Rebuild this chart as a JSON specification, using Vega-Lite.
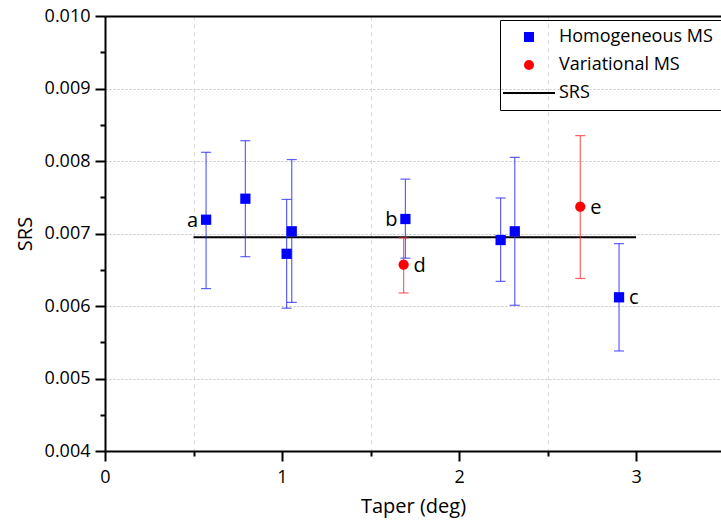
{
  "$schema": "https://vega.github.io/schema/vega-lite/v6.json",
  "width": 616,
  "height": 435,
  "autosize": {"type": "none"},
  "padding": {"left": 105, "top": 16, "right": 0, "bottom": 73},
  "config": {
    "font": "Open Sans",
    "view": {"stroke": null},
    "axis": {
      "domainColor": "#000000",
      "domainWidth": 2,
      "ticks": true,
      "tickColor": "#000000",
      "tickWidth": 2,
      "labelColor": "#000000",
      "labelFont": "Open Sans",
      "labelFontSize": 18,
      "labelFlush": false,
      "labelOverlap": false,
      "titleColor": "#000000",
      "titleFont": "Open Sans",
      "titleFontSize": 20,
      "titleFontWeight": "normal",
      "gridColor": "#c4c4c4",
      "gridWidth": 1,
      "gridDash": [2, 2]
    },
    "legend": {
      "labelFont": "Open Sans",
      "labelFontSize": 18,
      "labelColor": "#000000",
      "strokeColor": "#000000",
      "strokeWidth": 1,
      "padding": 8,
      "symbolOffset": 12,
      "labelOffset": 21,
      "rowPadding": 10,
      "symbolSize": 100,
      "symbolStrokeWidth": 0
    }
  },
  "datasets": {
    "pts": [
      {"taper": 0.571, "srs": 0.00719, "lo": 0.00624, "hi": 0.00812, "series": "Homogeneous MS", "label": "a"},
      {"taper": 0.793, "srs": 0.00748, "lo": 0.00668, "hi": 0.00828, "series": "Homogeneous MS", "label": ""},
      {"taper": 1.026, "srs": 0.00672, "lo": 0.00597, "hi": 0.00747, "series": "Homogeneous MS", "label": ""},
      {"taper": 1.055, "srs": 0.00703, "lo": 0.00605, "hi": 0.00802, "series": "Homogeneous MS", "label": ""},
      {"taper": 1.697, "srs": 0.00720, "lo": 0.00666, "hi": 0.00775, "series": "Homogeneous MS", "label": "b"},
      {"taper": 2.235, "srs": 0.00691, "lo": 0.00634, "hi": 0.00749, "series": "Homogeneous MS", "label": ""},
      {"taper": 2.315, "srs": 0.00703, "lo": 0.00601, "hi": 0.00805, "series": "Homogeneous MS", "label": ""},
      {"taper": 2.904, "srs": 0.00612, "lo": 0.00538, "hi": 0.00686, "series": "Homogeneous MS", "label": "c"},
      {"taper": 1.687, "srs": 0.00657, "lo": 0.00618, "hi": 0.00694, "series": "Variational MS", "label": "d"},
      {"taper": 2.685, "srs": 0.00737, "lo": 0.00638, "hi": 0.00835, "series": "Variational MS", "label": "e"}
    ],
    "srsline": [
      {"taper": 0.5, "srs": 0.00695},
      {"taper": 3.0, "srs": 0.00695}
    ]
  },
  "layer": [
    {
      "data": {"name": "srsline"},
      "mark": {"type": "line", "color": "#000000", "strokeWidth": 2},
      "encoding": {
        "x": {"field": "taper", "type": "quantitative", "scale": {"domain": [0, 3.48], "nice": false, "zero": false},
              "axis": {"orient": "top", "labels": false, "ticks": false, "grid": false, "title": null}},
        "y": {"field": "srs", "type": "quantitative", "axis": null}
      }
    },
    {
      "data": {"name": "pts"},
      "transform": [{"filter": "datum.series === 'Homogeneous MS'"}],
      "mark": {"type": "errorbar", "color": "#2a2aff", "opacity": 0.75, "rule": {"strokeWidth": 1.2}, "ticks": {"size": 10, "thickness": 1.2}},
      "encoding": {
        "x": {"field": "taper", "type": "quantitative",
              "axis": {"orient": "bottom", "values": [0.5, 1.5, 2.5], "labels": false, "domain": false, "ticks": true, "tickSize": 5,
                       "grid": true, "gridDash": [4, 4], "gridColor": "#dadada", "title": null}},
        "y": {"field": "lo", "type": "quantitative",
              "axis": {"orient": "left", "values": [0.0045, 0.0055, 0.0065, 0.0075, 0.0085, 0.0095], "labels": false, "domain": false,
                       "ticks": true, "tickSize": 5, "grid": false, "title": null}},
        "y2": {"field": "hi"}
      }
    },
    {
      "data": {"name": "pts"},
      "transform": [{"filter": "datum.series === 'Variational MS'"}],
      "mark": {"type": "errorbar", "color": "#ff3030", "opacity": 0.75, "rule": {"strokeWidth": 1.2}, "ticks": {"size": 10, "thickness": 1.2}},
      "encoding": {
        "x": {"field": "taper", "type": "quantitative", "axis": null},
        "y": {"field": "lo", "type": "quantitative", "axis": null},
        "y2": {"field": "hi"}
      }
    },
    {
      "data": {"name": "pts"},
      "mark": {"type": "point", "filled": true, "opacity": 1, "size": 105},
      "encoding": {
        "x": {"field": "taper", "type": "quantitative",
              "axis": {
                "orient": "bottom",
                "title": "Taper (deg)",
                "values": [0, 1, 2, 3],
                "format": "d",
                "tickSize": 10,
                "grid": false,
                "labelPadding": 7,
                "titlePadding": 10
              }},
        "y": {"field": "srs", "type": "quantitative", "title": "SRS",
              "scale": {"domain": [0.004, 0.010], "nice": false, "zero": false},
              "axis": {
                "orient": "left",
                "values": [0.004, 0.005, 0.006, 0.007, 0.008, 0.009, 0.010],
                "format": ".3f",
                "tickSize": 10,
                "grid": true,
                "labelPadding": 5,
                "titlePadding": 9
              }},
        "color": {"field": "series", "type": "nominal",
                  "scale": {"domain": ["Homogeneous MS", "Variational MS", "SRS"], "range": ["#0000ff", "#ff0000", "#000000"]},
                  "legend": {"title": null, "orient": "none", "legendX": 395, "legendY": 4}},
        "shape": {"field": "series", "type": "nominal",
                  "scale": {"domain": ["Homogeneous MS", "Variational MS", "SRS"], "range": ["square", "circle", "M-5.2,-0.2H5.2V0.2H-5.2Z"]},
                  "legend": {"title": null, "orient": "none", "legendX": 395, "legendY": 4}}
      }
    },
    {
      "data": {"name": "pts"},
      "transform": [{"filter": "datum.label === 'a' || datum.label === 'b'"}],
      "mark": {"type": "text", "align": "right", "baseline": "middle", "dx": -8, "dy": 1, "fontSize": 20, "font": "Open Sans", "color": "#000000"},
      "encoding": {
        "x": {"field": "taper", "type": "quantitative", "axis": null},
        "y": {"field": "srs", "type": "quantitative", "axis": null},
        "text": {"field": "label"}
      }
    },
    {
      "data": {"name": "pts"},
      "transform": [{"filter": "datum.label === 'c' || datum.label === 'd' || datum.label === 'e'"}],
      "mark": {"type": "text", "align": "left", "baseline": "middle", "dx": 10, "dy": 1, "fontSize": 20, "font": "Open Sans", "color": "#000000"},
      "encoding": {
        "x": {"field": "taper", "type": "quantitative", "axis": null},
        "y": {"field": "srs", "type": "quantitative", "axis": null},
        "text": {"field": "label"}
      }
    }
  ],
  "resolve": {"axis": {"x": "independent", "y": "independent"}}
}
